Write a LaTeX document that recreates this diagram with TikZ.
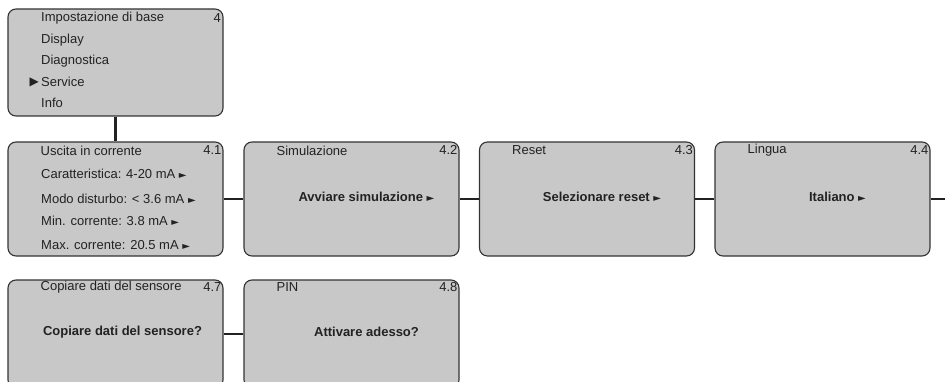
\documentclass[tikz,border=0pt]{standalone}
\usepackage{fontspec}
\setmainfont{Liberation Sans}
\newfontfamily\symfont{DejaVu Sans}
\usepackage{xcolor}
\usepackage{tikz}
\usetikzlibrary{positioning}
\definecolor{MenuFill}{HTML}{C8C8C8}
\definecolor{MenuLine}{HTML}{333333}
\definecolor{MenuText}{HTML}{222222}
\newcommand\menuptr{{\symfont\fontsize{10}{10}\selectfont ►}}

\begin{document}
\begin{tikzpicture}[x=1pt,y=-1pt,
  menubox/.style={draw=MenuLine,fill=MenuFill,line width=1.1pt,rounded corners=8pt,minimum width=215pt,inner sep=0pt},
  menutxt/.style={anchor=west,inner sep=0pt,text=MenuText,font=\fontsize{13}{15}\selectfont},
  menunum/.style={anchor=east,inner sep=0pt,text=MenuText,font=\fontsize{13}{15}\selectfont},
  menubold/.style={inner sep=0pt,text=MenuText,font=\fontsize{13}{15}\selectfont\bfseries},
  link/.style={draw=MenuText,line width=2.2pt}]
\useasboundingbox (0,0) rectangle (945,382);
\clip (0,0) rectangle (945,382);

% main menu
\node[menubox,minimum height=107pt] (b4) at (115.5,62.5) {};
\node[menunum] (n4) at (221,18) {4};
\foreach \y/\lab/\nm in {18/Impostazione di base/a,40/Display/b,61/Diagnostica/c,82/Service/d,103/Info/e}
  \node[menutxt] (m\nm) at (41,\y) {\lab};
\node[anchor=east,inner sep=0pt,text=MenuText,font=\symfont\fontsize{12}{12}\selectfont] (sel) at (39,82) {▶};

% row 4.1 - 4.4
\node[menubox,minimum height=114pt] (b41) at (115.5,199) {};
\foreach \x/\nm in {351.5/2,587/3,822.5/4}
  \node[menubox,minimum height=114pt] (b4\nm) at (\x,199) {};
\foreach \nm/\lab in {1/Uscita in corrente,2/Simulazione,3/Reset,4/Lingua} {
  \node[menutxt] (t4\nm) at ([xshift=33pt,yshift=-9pt]b4\nm.north west) {\lab};
  \node[menunum] (n4\nm) at ([xshift=-2pt,yshift=-9pt]b4\nm.north east) {4.\nm};
}
\foreach \y/\lab/\nm in {174/Caratteristica: 4-20 mA/a,199/Modo disturbo: < 3.6 mA/b,221/Min. corrente: 3.8 mA/c,245/Max. corrente: 20.5 mA/d}
  \node[menutxt] (s\nm) at (41,\y) {\lab\ \menuptr};
\foreach \nm/\lab in {2/Avviare simulazione,3/Selezionare reset,4/Italiano}
  \node[menubold] (a4\nm) at ([xshift=15pt,yshift=2pt]b4\nm.center) {\lab\ \menuptr};

% row 4.7 - 4.8
\node[menubox,minimum height=108pt] (b47) at (115.5,334) {};
\node[menubox,minimum height=108pt] (b48) at (351.5,334) {};
\foreach \nm/\lab in {7/Copiare dati del sensore,8/PIN} {
  \node[menutxt] (t4\nm) at ([xshift=33pt,yshift=-8pt]b4\nm.north west) {\lab};
  \node[menunum] (n4\nm) at ([xshift=-2pt,yshift=-8pt]b4\nm.north east) {4.\nm};
}
\node[menubold] (a47) at ([xshift=7pt,yshift=2pt]b47.center) {Copiare dati del sensore?};
\node[menubold] (a48) at ([xshift=15pt,yshift=2pt]b48.center) {Attivare adesso?};

% connectors
\coordinate (more) at (945,199);
\draw[link] (b4.south) -- (b41.north);
\draw[link] (b41.east) -- (b42.west);
\draw[link] (b42.east) -- (b43.west);
\draw[link] (b43.east) -- (b44.west);
\draw[link] (b44.east) -- (more);
\draw[link] (b47.east) -- (b48.west);
\end{tikzpicture}
\end{document}
